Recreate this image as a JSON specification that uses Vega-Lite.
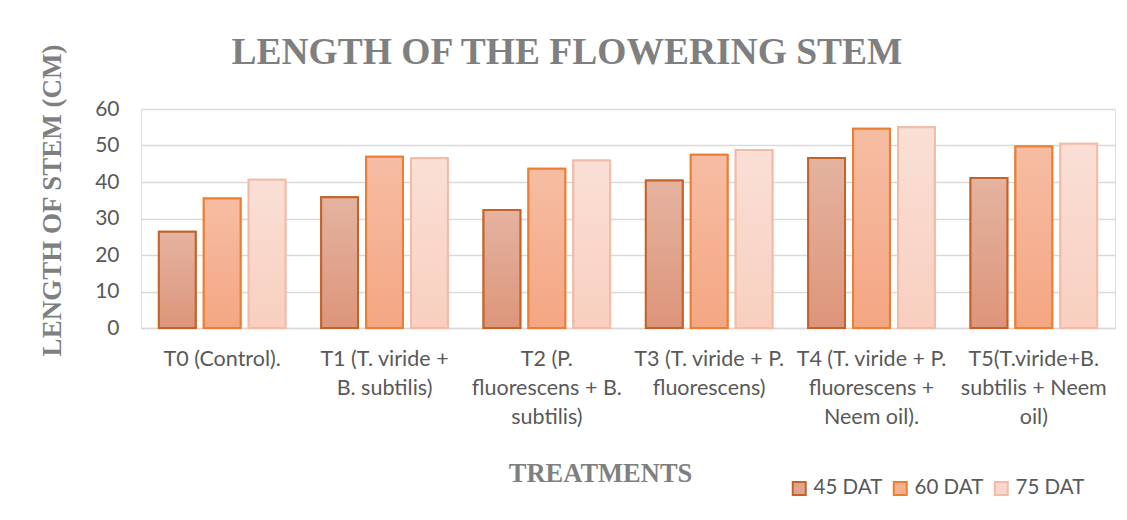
{
  "$schema": "https://vega.github.io/schema/vega-lite/v6.json",
  "width": 974,
  "height": 219,
  "autosize": {"type": "none"},
  "padding": {"left": 141, "top": 109, "right": 12, "bottom": 192},
  "background": "white",
  "title": {
    "text": "LENGTH OF THE FLOWERING STEM",
    "font": "Liberation Serif",
    "fontSize": 37.5,
    "fontWeight": "bold",
    "color": "#7F7F7F",
    "anchor": "middle",
    "dx": -61,
    "offset": -28
  },
  "data": {
    "values": [
      {"treatment": "T0 (Control).", "series": "45 DAT", "value": 26.4},
      {"treatment": "T0 (Control).", "series": "60 DAT", "value": 35.5},
      {"treatment": "T0 (Control).", "series": "75 DAT", "value": 40.6},
      {"treatment": "T1 (T. viride +|B. subtilis)", "series": "45 DAT", "value": 35.8},
      {"treatment": "T1 (T. viride +|B. subtilis)", "series": "60 DAT", "value": 46.9},
      {"treatment": "T1 (T. viride +|B. subtilis)", "series": "75 DAT", "value": 46.5},
      {"treatment": "T2 (P.|fluorescens + B.|subtilis)", "series": "45 DAT", "value": 32.3},
      {"treatment": "T2 (P.|fluorescens + B.|subtilis)", "series": "60 DAT", "value": 43.6},
      {"treatment": "T2 (P.|fluorescens + B.|subtilis)", "series": "75 DAT", "value": 45.9},
      {"treatment": "T3 (T. viride + P.|fluorescens)", "series": "45 DAT", "value": 40.4},
      {"treatment": "T3 (T. viride + P.|fluorescens)", "series": "60 DAT", "value": 47.5},
      {"treatment": "T3 (T. viride + P.|fluorescens)", "series": "75 DAT", "value": 48.8},
      {"treatment": "T4 (T. viride + P.|fluorescens +|Neem oil).", "series": "45 DAT", "value": 46.6},
      {"treatment": "T4 (T. viride + P.|fluorescens +|Neem oil).", "series": "60 DAT", "value": 54.6},
      {"treatment": "T4 (T. viride + P.|fluorescens +|Neem oil).", "series": "75 DAT", "value": 55.0},
      {"treatment": "T5(T.viride+B.|subtilis + Neem|oil)", "series": "45 DAT", "value": 41.1},
      {"treatment": "T5(T.viride+B.|subtilis + Neem|oil)", "series": "60 DAT", "value": 49.7},
      {"treatment": "T5(T.viride+B.|subtilis + Neem|oil)", "series": "75 DAT", "value": 50.5}
    ]
  },
  "encoding": {
    "x": {
      "field": "treatment",
      "type": "nominal",
      "sort": null,
      "scale": {"paddingInner": 0.22, "paddingOuter": 0.11},
      "axis": {
        "title": "TREATMENTS",
        "titleFont": "Liberation Serif",
        "titleFontSize": 26.5,
        "titleFontWeight": "bold",
        "titleColor": "#7F7F7F",
        "titleX": 459,
        "titleY": 153,
        "titleAlign": "center",
        "titleBaseline": "alphabetic",
        "labelExpr": "split(datum.value, '|')",
        "labelAngle": 0,
        "labelFont": "Lato",
        "labelFontSize": 21.5,
        "labelColor": "#595959",
        "labelLineHeight": 29,
        "labelPadding": 20,
        "labelLimit": 220,
        "ticks": false,
        "domainColor": "#D9D9D9",
        "domainWidth": 1.5,
        "grid": false
      }
    },
    "xOffset": {
      "field": "series",
      "type": "nominal",
      "scale": {"paddingInner": 0.18, "paddingOuter": 0}
    },
    "y": {
      "field": "value",
      "type": "quantitative",
      "scale": {"domain": [0, 60], "nice": false},
      "axis": {
        "title": "LENGTH OF STEM (CM)",
        "titleFont": "Liberation Serif",
        "titleFontSize": 27,
        "titleFontWeight": "bold",
        "titleColor": "#7F7F7F",
        "titleX": -89,
        "titleY": 91,
        "titleAlign": "center",
        "titleBaseline": "middle",
        "tickCount": 7,
        "labelOverlap": false,
        "labelFont": "Lato",
        "labelFontSize": 21,
        "labelColor": "#595959",
        "labelPadding": 22,
        "ticks": false,
        "domain": false,
        "gridColor": "#D9D9D9",
        "gridWidth": 1.5
      }
    }
  },
  "layer": [
    {
      "mark": {"type": "bar", "strokeWidth": 2},
      "encoding": {
        "color": {
          "field": "series",
          "type": "nominal",
          "scale": {"domain": ["45 DAT", "60 DAT", "75 DAT"], "range": ["#E0A48D", "#F5B091", "#F9D7CA"]},
          "legend": {
            "title": null,
            "orient": "none",
            "direction": "horizontal",
            "legendX": 648,
            "legendY": 369,
            "symbolType": "square",
            "symbolSize": 169,
            "symbolStrokeWidth": 2,
            "labelFont": "Lato",
            "labelFontSize": 20.5,
            "labelColor": "#595959",
            "columnPadding": 6,
            "labelOffset": 4
          }
        },
        "stroke": {
          "field": "series",
          "type": "nominal",
          "scale": {"domain": ["45 DAT", "60 DAT", "75 DAT"], "range": ["#C4622A", "#ED7D31", "#F2BBA7"]},
          "legend": null
        }
      }
    },
    {
      "transform": [{"filter": "datum.series == '45 DAT'"}],
      "mark": {
        "type": "bar",
        "strokeWidth": 2,
        "stroke": "#C4622A",
        "fill": {"gradient": "linear", "x1": 0, "y1": 0, "x2": 0, "y2": 1, "stops": [{"offset": 0, "color": "#E4B3A0"}, {"offset": 1, "color": "#DD957A"}]}
      },
      "encoding": {}
    },
    {
      "transform": [{"filter": "datum.series == '60 DAT'"}],
      "mark": {
        "type": "bar",
        "strokeWidth": 2,
        "stroke": "#ED7D31",
        "fill": {"gradient": "linear", "x1": 0, "y1": 0, "x2": 0, "y2": 1, "stops": [{"offset": 0, "color": "#F6BDA3"}, {"offset": 1, "color": "#F4A683"}]}
      },
      "encoding": {}
    },
    {
      "transform": [{"filter": "datum.series == '75 DAT'"}],
      "mark": {
        "type": "bar",
        "strokeWidth": 2,
        "stroke": "#F2BBA7",
        "fill": {"gradient": "linear", "x1": 0, "y1": 0, "x2": 0, "y2": 1, "stops": [{"offset": 0, "color": "#FADFD6"}, {"offset": 1, "color": "#F8CFBF"}]}
      },
      "encoding": {}
    }
  ]
}
